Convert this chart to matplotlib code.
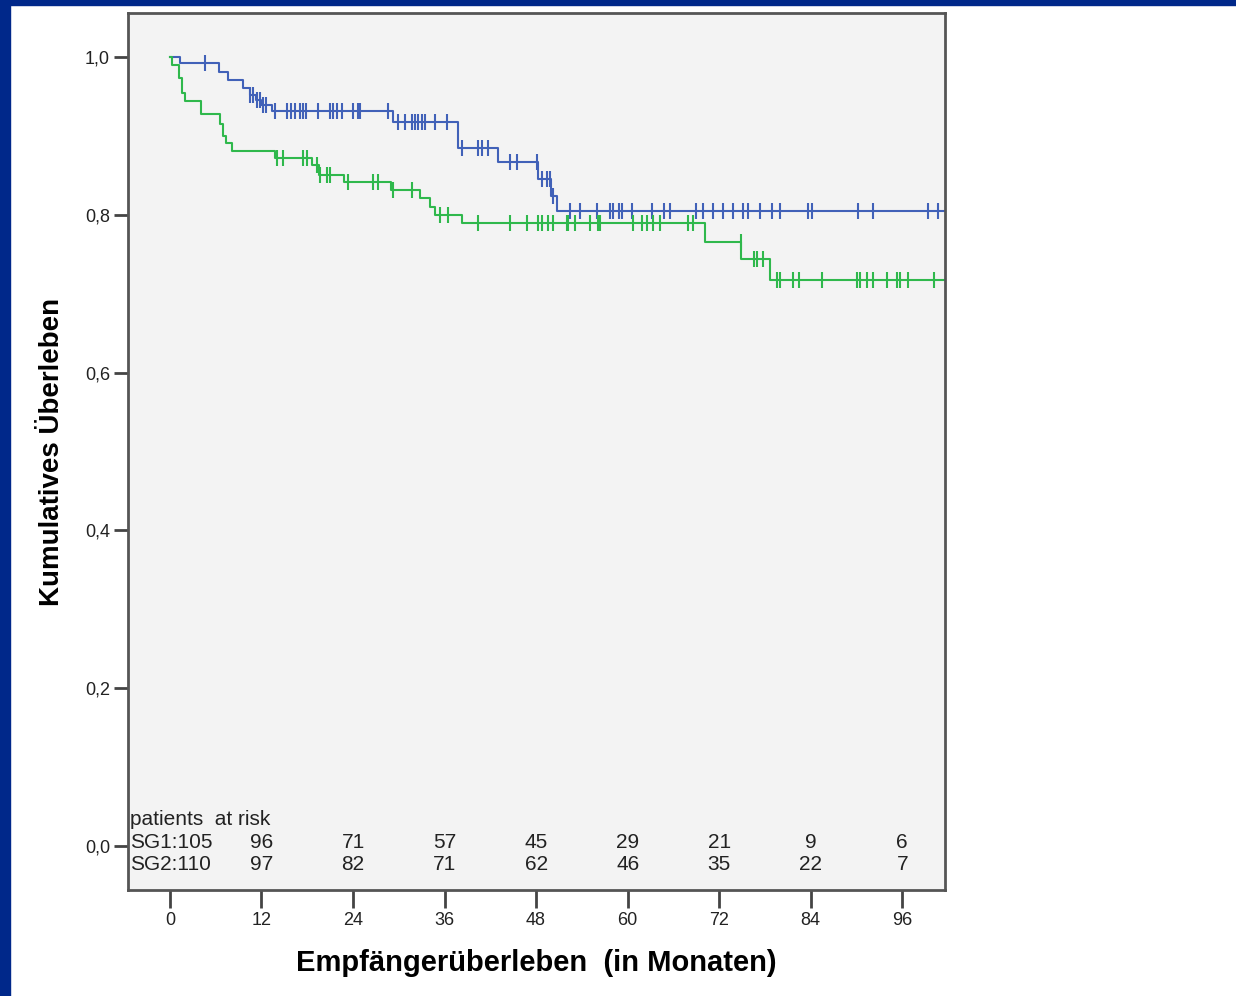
import numpy as np
import matplotlib
matplotlib.use("Agg")
from matplotlib import pyplot as plt
from matplotlib.patches import Rectangle

plt.rcParams['font.family'] = ['Liberation Sans', 'DejaVu Sans']

# Kaplan-Meier steps (months, cumulative survival)
sg1_times = [0, 1.3, 6.4, 7.6, 9.6, 10.5, 11.3, 12.0, 13.4, 29.2, 37.8, 43.0, 48.3, 49.9, 50.8]
sg1_surv = [1.0, 0.992, 0.981, 0.971, 0.961, 0.952, 0.945, 0.939, 0.932, 0.918, 0.885, 0.867, 0.845, 0.824, 0.805]
sg1_censored = [4.6, 10.5, 10.9, 11.4, 11.8, 12.2, 12.6,
                13.8, 15.3, 15.9, 16.4, 17.0, 17.4, 17.8, 19.4, 21.0, 21.4, 21.9, 22.6, 24.0, 24.7, 24.9, 28.6,
                29.9, 30.8, 31.7, 32.1, 32.5, 33.0, 33.4, 34.8, 36.3,
                38.3, 40.4, 40.9, 41.7, 44.6, 45.5, 48.1, 48.8, 49.4, 49.8, 50.2,
                52.5, 53.8, 56.0, 57.7, 58.1, 58.8, 59.3, 60.6, 63.2, 64.7, 65.6, 68.9, 69.9, 71.2,
                72.5, 73.8, 75.1, 75.8, 77.4, 78.9, 80.0, 83.7, 84.2, 90.2, 92.1, 99.4, 100.7]

sg2_times = [0, 0.3, 1.2, 1.6, 2.0, 4.1, 6.6, 7.0, 7.4, 8.1, 13.8, 18.6, 19.6, 22.8, 29.0,
             32.8, 34.1, 34.8, 38.3, 70.2, 74.9, 78.6]
sg2_surv = [1.0, 0.99, 0.973, 0.955, 0.944, 0.928, 0.915, 0.900, 0.891, 0.881, 0.872, 0.863, 0.851,
            0.841, 0.831, 0.821, 0.810, 0.800, 0.790, 0.765, 0.744, 0.717]
sg2_censored = [14.0, 14.8, 17.4, 18.0, 19.3, 19.7, 20.6, 21.0, 23.3, 26.6, 27.3, 29.2, 31.7,
                35.4, 36.5, 40.4, 44.6, 46.8, 48.3, 48.8, 49.6, 50.2, 52.1, 52.2, 53.1, 55.1, 56.1,
                56.4, 60.7, 61.9, 62.6, 63.3, 64.3, 67.9, 68.6,
                74.8, 76.5, 77.0, 77.8,
                79.6, 80.0, 81.7, 82.4, 85.5, 90.1, 90.5, 91.4, 92.2, 94.0, 95.3, 95.7, 96.7, 100.1]

end_time = 101.6

risk_months = [12, 24, 36, 48, 60, 72, 84, 96]
sg1_at_risk = [96, 71, 57, 45, 29, 21, 9, 6]
sg2_at_risk = [97, 82, 71, 62, 46, 35, 22, 7]

x_ticks = [0, 12, 24, 36, 48, 60, 72, 84, 96]
y_ticks = [0.0, 0.2, 0.4, 0.6, 0.8, 1.0]
y_tick_labels = ['0,0', '0,2', '0,4', '0,6', '0,8', '1,0']

blue = '#4161b8'
green = '#2fb84c'

fig = plt.figure(figsize=(12.36, 9.96), dpi=100)
fig.patch.set_facecolor('white')

# dark blue slide frame
fig.patches.append(Rectangle((0, 0), 10 / 1236, 1, transform=fig.transFigure,
                             color='#00288a', zorder=0))
fig.patches.append(Rectangle((0, 1 - 5 / 996), 1, 5 / 996, transform=fig.transFigure,
                             color='#00288a', zorder=0))

ax = fig.add_axes([128 / 1236, 106 / 996, 817 / 1236, 877 / 996])
ax.set_facecolor('#f3f3f3')


def draw_curve(times, surv, censored, color):
    t = list(times) + [end_time]
    s = list(surv) + [surv[-1]]
    ax.step(t, s, where='post', color=color, lw=1.5)
    idx = np.searchsorted(times, censored, side='right') - 1
    cy = np.array(surv)[idx]
    ax.plot(censored, cy, linestyle='none', marker='|', markersize=11,
            markeredgewidth=1.5, color=color)


draw_curve(sg1_times, sg1_surv, sg1_censored, blue)
draw_curve(sg2_times, sg2_surv, sg2_censored, green)

ax.set_xlim(-5.5, 101.6)
ax.set_ylim(-0.0558, 1.0558)
ax.set_xticks(x_ticks)
ax.set_yticks(y_ticks)
ax.set_yticklabels(y_tick_labels)
ax.tick_params(axis='both', direction='out', width=2, color='#444444',
               labelsize=13, labelcolor='#222222')
ax.tick_params(axis='y', length=10, pad=3)
ax.tick_params(axis='x', length=13, pad=3)
for sp in ax.spines.values():
    sp.set_color('#555555')
    sp.set_linewidth(2)

# patients at risk table
tsize = 15
ax.text(-5.2, 0.033, 'patients  at risk', fontsize=tsize, ha='left', va='center', color='#222222')
ax.text(-5.2, 0.005, 'SG1:105', fontsize=tsize, ha='left', va='center', color='#222222')
ax.text(-5.2, -0.023, 'SG2:110', fontsize=tsize, ha='left', va='center', color='#222222')
for m, a, b in zip(risk_months, sg1_at_risk, sg2_at_risk):
    ax.text(m, 0.005, str(a), fontsize=tsize, ha='center', va='center', color='#222222')
    ax.text(m, -0.023, str(b), fontsize=tsize, ha='center', va='center', color='#222222')

ax.set_ylabel('Kumulatives Überleben', fontsize=20, fontweight='bold', labelpad=14)
ax.set_xlabel('Empfängerüberleben  (in Monaten)', fontsize=21, fontweight='bold', labelpad=14)

fig.savefig('out.png', dpi=100)
